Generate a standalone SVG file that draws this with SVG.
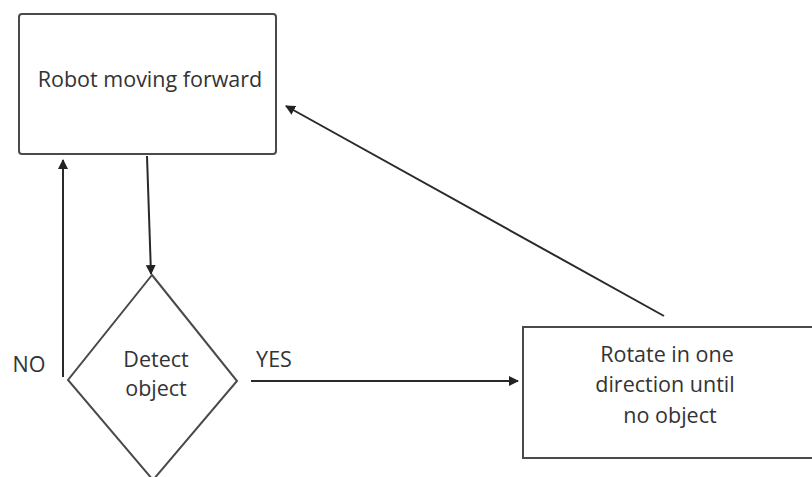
<svg xmlns="http://www.w3.org/2000/svg" width="812" height="477" viewBox="0 0 812 477">
<style>
.box{fill:#fff;stroke:#4a4a4a;stroke-width:2}
.con{fill:none;stroke:#2a2a2a;stroke-width:2}
text{font-family:"Open Sans","Liberation Sans",sans-serif;font-size:21.5px;fill:#333;text-anchor:middle}
</style>
<defs>
<marker id="ah" viewBox="0 0 10 10" refX="9" refY="5" markerWidth="10" markerHeight="10" markerUnits="userSpaceOnUse" orient="auto">
<path d="M0,0 L10,5 L0,10 z" fill="#222"/>
</marker>
</defs>
<rect width="812" height="477" fill="#fff"/>
<g id="n_robot">
<rect class="box" x="19" y="14" width="257" height="140" rx="3"/>
<text x="150" y="87">Robot moving forward</text>
</g>
<g id="n_detect">
<polygon class="box" points="152,275 237,381 153,480 68,380"/>
<text x="156" y="367">Detect</text>
<text x="156" y="396">object</text>
</g>
<g id="n_rotate">
<rect class="box" x="523" y="327" width="300" height="131"/>
<text x="667" y="362">Rotate in one</text>
<text x="665" y="392">direction until</text>
<text x="670" y="423">no object</text>
</g>
<g id="connectors">
<line class="con" x1="147" y1="156" x2="151" y2="274" marker-end="url(#ah)"/>
<line class="con" x1="63" y1="377" x2="63" y2="160" marker-end="url(#ah)"/>
<line class="con" x1="251" y1="381" x2="518" y2="381" marker-end="url(#ah)"/>
<line class="con" x1="664" y1="316" x2="286" y2="106" marker-end="url(#ah)"/>
<text x="29" y="372">NO</text>
<text x="274" y="367">YES</text>
</g>
</svg>
